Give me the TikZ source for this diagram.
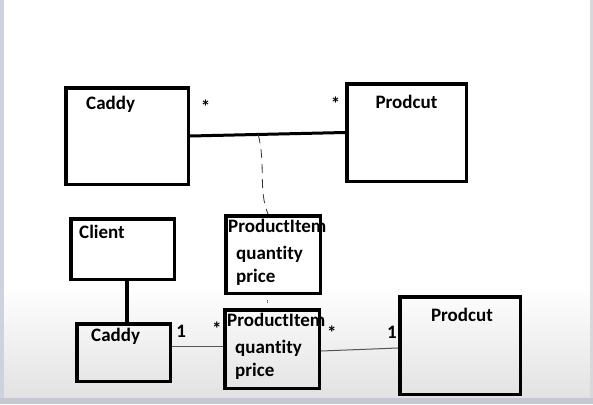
\documentclass[tikz,border=0pt]{standalone}
\usepackage{fontspec}
\setmainfont{Carlito}[Ligatures=NoCommon]
\usepackage{xcolor}
\definecolor{panelgray}{RGB}{226, 226, 226}
\definecolor{edgeblue}{RGB}{204, 211, 222}
\definecolor{stripgray}{RGB}{196, 200, 208}
\definecolor{wiregray}{RGB}{85, 85, 85}
\usetikzlibrary{
    positioning
}
\tikzstyle{box} = [
    rectangle,
    draw=black,
    line width=3.5pt,
    inner sep=0pt
]
\tikzstyle{title} = [
    font=\bfseries\fontsize{19}{21}\selectfont,
    inner sep=0pt
]
\tikzstyle{attrs} = [
    font=\bfseries\fontsize{19}{22.5}\selectfont,
    align=left,
    inner sep=0pt
]
\tikzstyle{mult} = [
    font=\bfseries\fontsize{19}{21}\selectfont,
    inner sep=0pt
]
\tikzstyle{assoc} = [
    line width=3pt
]
\tikzstyle{wire} = [
    line width=1pt,
    draw=wiregray
]
\tikzstyle{link} = [
    line width=0.8pt,
    draw=black!80,
    dash pattern=on 9pt off 6pt
]

\begin{document}
\begin{tikzpicture}[x=1pt, y=-1pt]

% Hintergrund
\fill[white] (0,0) rectangle (593,404);
\shade[top color=white, bottom color=panelgray] (0,285) rectangle (593,398);
\fill[stripgray] (0,398) rectangle (593,404);
\fill[edgeblue] (0,0) rectangle (4,398);
\fill[stripgray!70] (590,0) rectangle (593,398);
\useasboundingbox (0,0) rectangle (593,404);

% Klassen oben
\node (caddyA) [box, minimum width=122.5pt, minimum height=96.5pt] at (127,136) {};
\node (prodA) [box, minimum width=119.5pt, minimum height=97.5pt] at (406.5,132.5) {};
\node (piA) [box, minimum width=94.5pt, minimum height=77.5pt] at (273,254.5) {};

% Klassen unten
\node (clientB) [box, minimum width=103.5pt, minimum height=60.5pt] at (122.5,249) {};
\node (caddyB) [box, minimum width=93.5pt, minimum height=57.5pt] at (123.5,352.5) {};
\node (piB) [box, minimum width=94.5pt, minimum height=78.5pt] at (272,349) {};
\node (prodB) [box, minimum width=120.5pt, minimum height=97.5pt] at (460,345.5) {};

% Namen
\node (caddyAname) [title, anchor=north west, below right=10pt and 22pt of caddyA.north west] {Caddy};
\node (prodAname) [title, below=13pt of prodA.north] {Prodcut};
\node (piAname) [title, anchor=north west, below right=5pt and 4pt of piA.north west] {ProductItem};
\node (piAattrs) [attrs, anchor=north west, below right=32pt and 12pt of piA.north west] {quantity\\price};
\node (clientBname) [title, anchor=north west, below right=8pt and 10pt of clientB.north west] {Client};
\node (caddyBname) [title, anchor=north west, below right=6pt and 16pt of caddyB.north west] {Caddy};
\node (piBname) [title, anchor=north west, below right=5pt and 4pt of piB.north west] {ProductItem};
\node (piBattrs) [attrs, anchor=north west, below right=32pt and 12pt of piB.north west] {quantity\\price};
\node (prodBname) [title, below=13pt of prodB.north, xshift=2pt] {Prodcut};

% Assoziationen
\draw [assoc] (caddyA.east)
    -- node[mult, pos=0.10, above=21pt] {*}
       coordinate[pos=0.44] (assocMid)
       node[mult, pos=0.94, above=21pt] {*}
    (prodA.west);
\draw [link] (assocMid) .. controls (266,165) and (258,190) .. ([xshift=-5pt]piA.north);

\draw [line width=3.5pt] ([xshift=4.5pt]clientB.south) -- ([xshift=3.5pt]caddyB.north);
\draw [wire] ([yshift=6.5pt]caddyB.east)
    -- node[mult, pos=0.18, above=8pt] {1}
       node[mult, pos=0.88, above=10pt] {*}
    ([yshift=3pt]piB.west);
\draw [wire] ([yshift=-2pt]piB.east)
    -- node[mult, pos=0.14, above=11pt] {*}
       node[mult, pos=0.92, above=9pt] {1}
    ([yshift=-2.5pt]prodB.west);

% kleiner Strich zwischen den ProductItems
\draw [thin, dash pattern=on 0pt off 5pt on 3pt off 20pt] ([xshift=-5pt]piA.south) -- ([xshift=-5pt]piB.north);

\end{tikzpicture}
\end{document}
